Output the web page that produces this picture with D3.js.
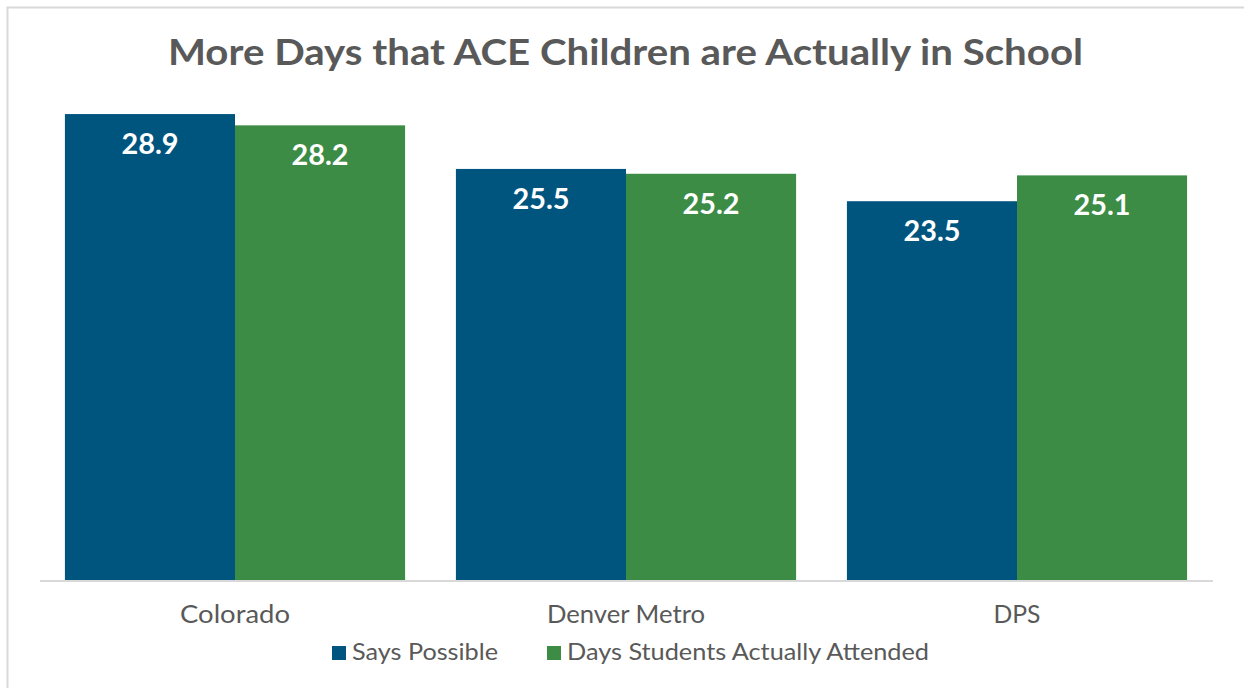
<!DOCTYPE html>
<html>
<head>
<meta charset="utf-8">
<script src="https://cdn.jsdelivr.net/npm/d3@7"></script>
<style>
  html, body { margin: 0; padding: 0; background: #fff; }
  svg { display: block; }
  text { font-family: Lato, "Open Sans", sans-serif; }
</style>
</head>
<body>
<svg id="chart" width="1244" height="688"></svg>
<script>
// Chart data
const categories = ["Colorado", "Denver Metro", "DPS"];
const seriesNames = ["Says Possible", "Days Students Actually Attended"];
const saysPossible = [28.9, 25.5, 23.5];
const actuallyAttended = [28.2, 25.2, 25.1];
const seriesColors = ["#00557f", "#3c8c45"];

// Rendered text widths for the wide geometric face the labels are set in
const categoryLabelWidths = [110, 158, 47];
const legendLabelWidths = [146, 362];

const seriesValues = [saysPossible, actuallyAttended];
const rows = categories.map((c, i) => ({
  category: c,
  values: seriesValues.map((vals, s) => ({ series: s, value: vals[i] }))
}));

const svg = d3.select("#chart");
const W = 1244, H = 688;
const textGray = "#595959";

// Chart frame (extends past the right and bottom edges of the view)
svg.append("rect")
  .attr("x", 7.5).attr("y", 7.5)
  .attr("width", W + 20).attr("height", H + 20)
  .attr("fill", "#fff")
  .attr("stroke", "#d9d9d9").attr("stroke-width", 2);

// Plot area
const plot = { left: 39.5, right: 1212.5, baseline: 580.5 };

const x0 = d3.scaleBand()
  .domain(categories)
  .range([plot.left, plot.right])
  .paddingInner(0.13)
  .paddingOuter(0.065);

const x1 = d3.scaleBand()
  .domain(d3.range(seriesNames.length))
  .range([0, x0.bandwidth()])
  .padding(0);

const y = d3.scaleLinear()
  .domain([0, 30])
  .range([plot.baseline, plot.baseline - 30 * 16.14]);

// Title
svg.append("text")
  .attr("x", 625.5).attr("y", 65)
  .attr("text-anchor", "middle")
  .attr("font-size", 37).attr("font-weight", 700)
  .attr("fill", textGray)
  .attr("textLength", 915).attr("lengthAdjust", "spacingAndGlyphs")
  .text("More Days that ACE Children are Actually in School");

// Bars
const groups = svg.append("g").selectAll("g")
  .data(rows)
  .join("g")
  .attr("transform", d => `translate(${x0(d.category)},0)`);

groups.selectAll("rect")
  .data(d => d.values)
  .join("rect")
  .attr("x", d => x1(d.series))
  .attr("y", d => y(d.value))
  .attr("width", x1.bandwidth())
  .attr("height", d => y(0) - y(d.value))
  .attr("fill", d => seriesColors[d.series]);

// Value labels inside the top of each bar
groups.selectAll("text.value")
  .data(d => d.values)
  .join("text")
  .attr("class", "value")
  .attr("x", d => x1(d.series) + x1.bandwidth() / 2)
  .attr("y", d => y(d.value) + 40)
  .attr("text-anchor", "middle")
  .attr("font-size", 28).attr("font-weight", 700)
  .attr("fill", "#fff")
  .attr("textLength", 57).attr("lengthAdjust", "spacingAndGlyphs")
  .text(d => d3.format(".1f")(d.value));

// Category axis
const xAxis = svg.append("g")
  .attr("transform", `translate(0,${plot.baseline})`)
  .call(d3.axisBottom(x0).tickSize(0).tickPadding(0).tickSizeOuter(0));
xAxis.select(".domain").attr("stroke", "#d9d9d9").attr("stroke-width", 2);
xAxis.selectAll(".tick text")
  .attr("dy", null)
  .attr("y", 42)
  .attr("font-size", 25)
  .attr("font-family", "Lato, 'Open Sans', sans-serif")
  .attr("fill", textGray)
  .attr("textLength", (d, i) => categoryLabelWidths[i])
  .attr("lengthAdjust", "spacingAndGlyphs");

// Legend
const legendItems = [
  { name: seriesNames[0], color: seriesColors[0], x: 332, width: legendLabelWidths[0] },
  { name: seriesNames[1], color: seriesColors[1], x: 547, width: legendLabelWidths[1] }
];
const legend = svg.append("g").selectAll("g")
  .data(legendItems)
  .join("g")
  .attr("transform", d => `translate(${d.x},646)`);
legend.append("rect")
  .attr("width", 14).attr("height", 14)
  .attr("fill", d => d.color);
legend.append("text")
  .attr("x", 20).attr("y", 14)
  .attr("font-size", 23)
  .attr("fill", textGray)
  .attr("textLength", d => d.width)
  .attr("lengthAdjust", "spacingAndGlyphs")
  .text(d => d.name);
</script>
</body>
</html>
